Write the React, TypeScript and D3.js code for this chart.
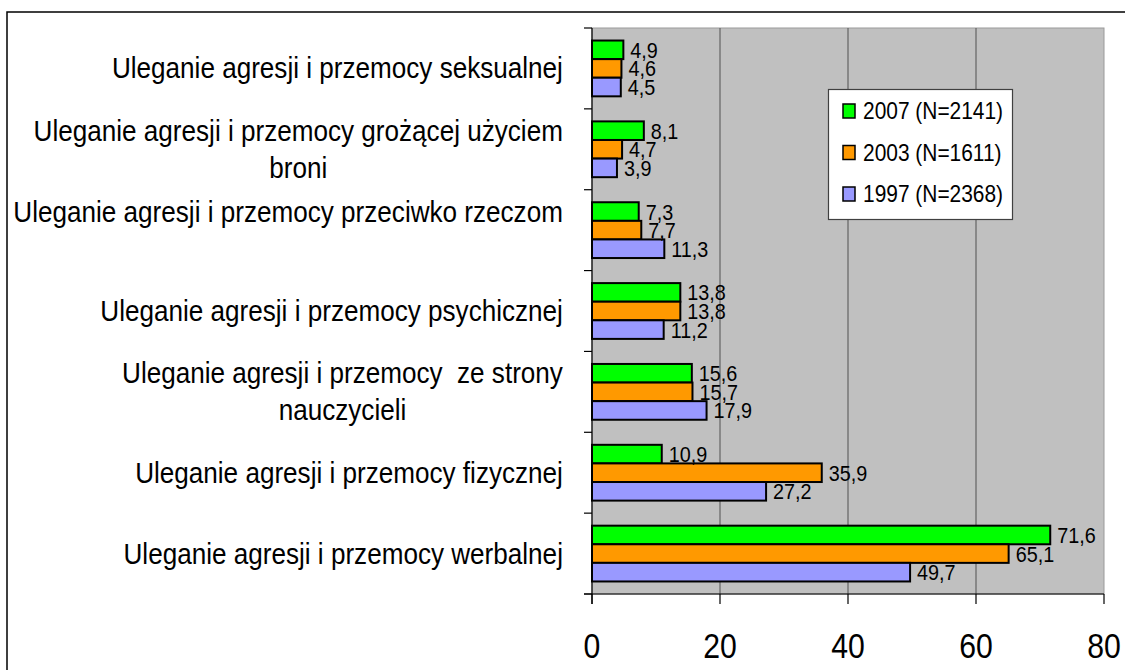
import React, { useEffect, useRef } from "react";
import * as d3 from "d3";

const categories: string[][] = [
  ["Uleganie agresji i przemocy seksualnej"],
  ["Uleganie agresji i przemocy grożącej użyciem", "broni"],
  ["Uleganie agresji i przemocy przeciwko rzeczom", ""],
  ["Uleganie agresji i przemocy psychicznej"],
  ["Uleganie agresji i przemocy  ze strony", "nauczycieli"],
  ["Uleganie agresji i przemocy fizycznej"],
  ["Uleganie agresji i przemocy werbalnej"],
];

const seriesNames = ["2007 (N=2141)", "2003 (N=1611)", "1997 (N=2368)"];
const seriesColors = ["#00FF00", "#FF9900", "#9999FF"];

const values2007 = [4.9, 8.1, 7.3, 13.8, 15.6, 10.9, 71.6];
const values2003 = [4.6, 4.7, 7.7, 13.8, 15.7, 35.9, 65.1];
const values1997 = [4.5, 3.9, 11.3, 11.2, 17.9, 27.2, 49.7];
const seriesValues = [values2007, values2003, values1997];

const xTicks = [0, 20, 40, 60, 80];

const FONT = "'Liberation Sans', Arial, sans-serif";

export default function App() {
  const ref = useRef<SVGSVGElement | null>(null);

  useEffect(() => {
    document.body.style.margin = "0";
    const svg = d3.select(ref.current);
    svg.selectAll("*").remove();

    const W = 1125, H = 670;
    const left = 592, right = 1104, top = 28, bottom = 594;

    // outer frame
    svg.append("rect").attr("x", 7).attr("y", 12).attr("width", W).attr("height", H)
      .attr("fill", "white").attr("stroke", "#000").attr("stroke-width", 1.5);

    const x = d3.scaleLinear().domain([0, 80]).range([left, right]);
    const keys = categories.map((_, i) => String(i));
    const y = d3.scaleBand<string>().domain(keys).range([top, bottom]).padding(0);
    const step = y.bandwidth();
    const groupH = step * 0.69;
    const ySub = d3.scaleBand<number>().domain([0, 1, 2]).range([0, groupH]).padding(0);

    // plot background
    svg.append("rect").attr("x", left).attr("y", top).attr("width", right - left).attr("height", bottom - top)
      .attr("fill", "#C0C0C0").attr("stroke", "#9a9a9a").attr("stroke-width", 1);

    // gridlines
    svg.append("g").selectAll("line").data(xTicks.filter(t => t > 0 && t < 80)).join("line")
      .attr("x1", d => x(d)).attr("x2", d => x(d)).attr("y1", top).attr("y2", bottom)
      .attr("stroke", "#505050").attr("stroke-width", 1);

    // bars
    const gBars = svg.append("g");
    categories.forEach((_, ci) => {
      const y0 = (y(String(ci)) as number) + (step - groupH) / 2;
      seriesValues.forEach((vals, si) => {
        const v = vals[ci];
        const by = y0 + (ySub(si) as number);
        const bh = ySub.bandwidth();
        gBars.append("rect")
          .attr("x", x(0)).attr("y", by).attr("width", x(v) - x(0)).attr("height", bh)
          .attr("fill", seriesColors[si]).attr("stroke", "#000").attr("stroke-width", 2);
      });
    });
    // data labels
    const gLab = svg.append("g");
    categories.forEach((_, ci) => {
      const y0 = (y(String(ci)) as number) + (step - groupH) / 2;
      seriesValues.forEach((vals, si) => {
        const v = vals[ci];
        const cy = y0 + (ySub(si) as number) + ySub.bandwidth() / 2;
        gLab.append("text")
          .attr("transform", `translate(${x(v) + 7},${cy + 8}) scale(0.88,1)`)
          .attr("font-family", FONT).attr("font-size", 22.5).attr("fill", "#000")
          .text(String(v).replace(".", ","));
      });
    });

    // left axis
    svg.append("line").attr("x1", left).attr("x2", left).attr("y1", top).attr("y2", bottom + 10)
      .attr("stroke", "#000").attr("stroke-width", 1.2);
    const boundaries = keys.map(k => y(k) as number).concat([bottom]);
    svg.append("g").selectAll("line").data(boundaries).join("line")
      .attr("x1", left - 8).attr("x2", left).attr("y1", d => d).attr("y2", d => d)
      .attr("stroke", "#000").attr("stroke-width", 1.2);

    // bottom axis
    svg.append("line").attr("x1", left - 8).attr("x2", right).attr("y1", bottom).attr("y2", bottom)
      .attr("stroke", "#000").attr("stroke-width", 1.2);
    svg.append("g").selectAll("line").data(xTicks).join("line")
      .attr("x1", d => x(d)).attr("x2", d => x(d)).attr("y1", bottom).attr("y2", bottom + 10)
      .attr("stroke", "#000").attr("stroke-width", 1.2);
    svg.append("g").selectAll("text").data(xTicks).join("text")
      .attr("transform", d => `translate(${x(d)},${bottom + 64}) scale(0.84,1)`)
      .attr("text-anchor", "middle").attr("font-family", FONT).attr("font-size", 36).attr("fill", "#000")
      .text(d => String(d));

    // category labels
    const lineH = 37;
    const labelRight = 563;
    const sx = 0.9;
    categories.forEach((lines, ci) => {
      const cy = (y(String(ci)) as number) + step / 2;
      const n = lines.length;
      const g = svg.append("g");
      const texts = lines.map((ln, li) => {
        return g.append("text")
          .attr("font-family", FONT).attr("font-size", 29).attr("fill", "#000")
          .attr("text-anchor", "middle").style("white-space", "pre")
          .attr("data-line", li)
          .text(ln);
      });
      const widths = texts.map(t => (t.node() as SVGTextElement).getComputedTextLength() * sx);
      const maxW = Math.max(...widths);
      const cx = labelRight - maxW / 2;
      texts.forEach((t, li) => {
        const ly = cy + (li - (n - 1) / 2) * lineH + 10;
        t.attr("transform", `translate(${cx},${ly}) scale(${sx},1)`);
      });
    });

    // legend
    const lg = svg.append("g");
    lg.append("rect").attr("x", 828.5).attr("y", 89.5).attr("width", 184).attr("height", 130)
      .attr("fill", "#fff").attr("stroke", "#404040").attr("stroke-width", 1.2);
    seriesNames.forEach((name, i) => {
      const cy = 111 + i * 41.5;
      lg.append("rect").attr("x", 843).attr("y", cy - 7).attr("width", 12).attr("height", 14)
        .attr("fill", seriesColors[i]).attr("stroke", "#000").attr("stroke-width", 1.5);
      lg.append("text").attr("transform", `translate(863,${cy + 8}) scale(0.91,1)`)
        .attr("font-family", FONT).attr("font-size", 23).attr("fill", "#000").text(name);
    });
  }, []);

  return (
    <svg ref={ref} width={1125} height={670}
      style={{ position: "absolute", left: 0, top: 0, display: "block", background: "#fff" }} />
  );
}
